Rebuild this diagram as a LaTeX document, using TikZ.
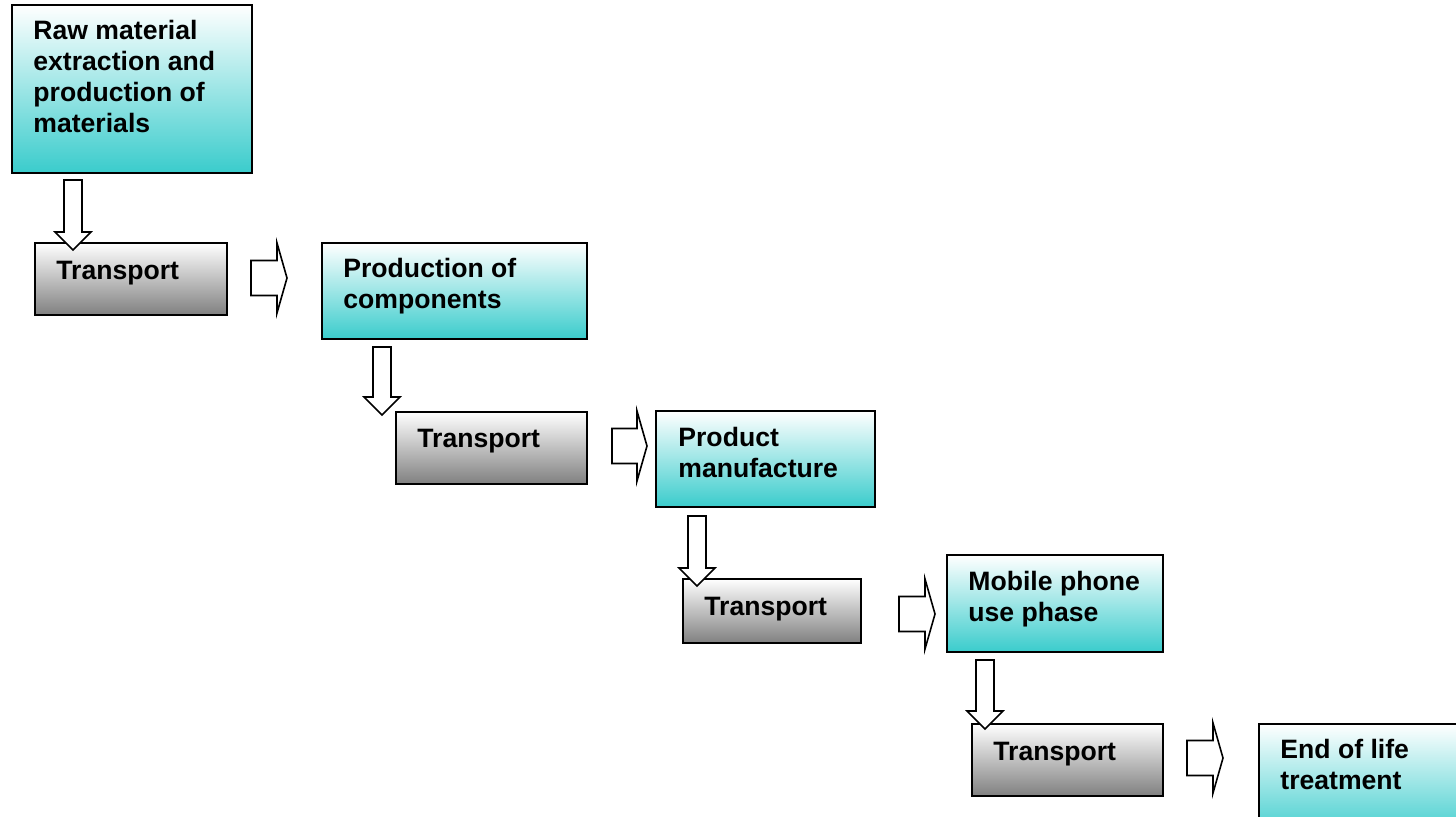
\documentclass[tikz,border=0pt]{standalone}
\usepackage{fontspec}
\setmainfont{Liberation Sans}
\usetikzlibrary{calc}
\definecolor{cyanbox}{RGB}{58,204,204}
\definecolor{graybox}{RGB}{128,128,128}
\tikzset{
  cyanstage/.style={draw=black, line width=0.8pt, top color=white, bottom color=cyanbox, inner sep=0pt, outer sep=0pt, anchor=north west},
  graystage/.style={draw=black, line width=0.8pt, top color=white, bottom color=graybox, inner sep=0pt, outer sep=0pt, anchor=north west},
  stagetext/.style={font=\bfseries\fontsize{13.3pt}{15.5pt}\selectfont, align=left, inner sep=0pt, anchor=base west},
  blockarrow/.style={draw=black, line width=0.8pt, fill=white, line join=miter},
}
% down block arrow from start (top centre) to end (tip)
\newcommand{\blkdown}[2]{%
  \path[blockarrow] let \p1=#1, \p2=#2 in
    (\x1-4.5pt,\y1) -- (\x1-4.5pt,\y2+9pt) -- (\x1-9pt,\y2+9pt) -- (\x1,\y2)
    -- (\x1+9pt,\y2+9pt) -- (\x1+4.5pt,\y2+9pt) -- (\x1+4.5pt,\y1) -- cycle;}
% right block arrow from start (left centre) to end (tip x)
\newcommand{\blkright}[2]{%
  \path[blockarrow] let \p1=#1, \p2=#2 in
    (\x1,\y1+8.75pt) -- (\x2-5pt,\y1+8.75pt) -- (\x2-5pt,\y1+17.5pt) -- (\x2,\y1)
    -- (\x2-5pt,\y1-17.5pt) -- (\x2-5pt,\y1-8.75pt) -- (\x1,\y1-8.75pt) -- cycle;}
\begin{document}
\begin{tikzpicture}[x=0.5pt,y=-0.5pt]
\useasboundingbox (0,0) rectangle (1456,817);
\clip (0,0) rectangle (1456,817);
% boxes
\node[cyanstage, minimum width=120pt, minimum height=84pt] (b1) at (12,5) {};
\node[graystage, minimum width=96pt, minimum height=36pt] (t1) at (35,243) {};
\node[cyanstage, minimum width=132.5pt, minimum height=48pt] (b2) at (322,243) {};
\node[graystage, minimum width=95.5pt, minimum height=36pt] (t2) at (396,412) {};
\node[cyanstage, minimum width=109.5pt, minimum height=48pt] (b3) at (656,411) {};
\node[graystage, minimum width=89pt, minimum height=32pt] (t3) at (683,579) {};
\node[cyanstage, minimum width=108pt, minimum height=48.5pt] (b4) at (947,555) {};
\node[graystage, minimum width=95.5pt, minimum height=36pt] (t4) at (972,724) {};
\node[cyanstage, minimum width=110.5pt, minimum height=58pt] (b5) at (1259,724) {};
% texts (anchor = baseline of the last line)
\node[stagetext] (b1txt) at ($(b1.north west)+(21,128)$) {Raw material\\extraction and\\production of\\materials};
\node[stagetext] (t1txt) at ($(t1.north west)+(21,37)$) {Transport};
\node[stagetext] (b2txt) at ($(b2.north west)+(21,66)$) {Production of\\components};
\node[stagetext] (t2txt) at ($(t2.north west)+(21,36)$) {Transport};
\node[stagetext] (b3txt) at ($(b3.north west)+(22,67)$) {Product\\manufacture};
\node[stagetext] (t3txt) at ($(t3.north west)+(21,37)$) {Transport};
\node[stagetext] (b4txt) at ($(b4.north west)+(21,66)$) {Mobile phone\\use phase};
\node[stagetext] (t4txt) at ($(t4.north west)+(21,36)$) {Transport};
\node[stagetext] (b5txt) at ($(b5.north west)+(21,65)$) {End of life\\treatment};
% down arrows
\blkdown{($(b1.south west)+(61,7)$)}{($(t1.north west)+(38,7)$)}
\blkdown{($(b2.south west)+(60,8)$)}{($(t2.north west)+(-14,3)$)}
\blkdown{($(b3.south west)+(41,9)$)}{($(t3.north west)+(14,7)$)}
\blkdown{($(b4.south west)+(38,8)$)}{($(t4.north west)+(13,5)$)}
% right arrows
\blkright{($(t1.east)+(24,-1)$)}{($(b2.west)+(-35,0)$)}
\blkright{($(t2.east)+(25,-2)$)}{($(b3.west)+(-9,0)$)}
\blkright{($(t3.east)+(38,3)$)}{($(b4.west)+(-12,0)$)}
\blkright{($(t4.east)+(24,-2)$)}{($(b5.west)+(-36,0)$)}
\end{tikzpicture}
\end{document}
